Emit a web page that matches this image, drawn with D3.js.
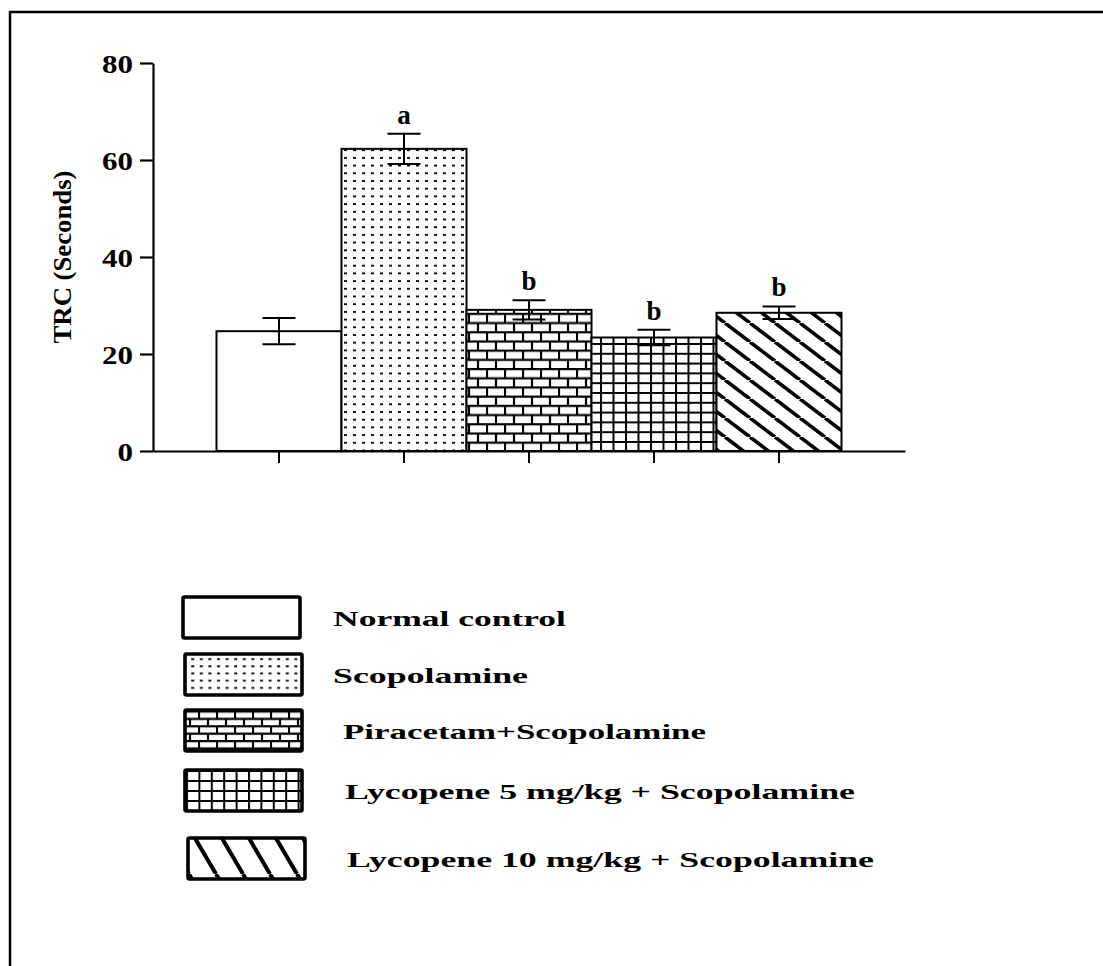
<!DOCTYPE html>
<html>
<head>
<meta charset="utf-8">
<script src="https://cdn.jsdelivr.net/npm/d3@7"></script>
<style>
  body { margin: 0; background: #fff; }
  svg { display: block; }
  text { font-family: "Liberation Serif", "Times New Roman", serif; font-weight: bold; fill: #000; }
</style>
</head>
<body>
<svg id="canvas" width="1103" height="966"></svg>
<script>
// chart data
let groups = ["Normal control", "Scopolamine", "Piracetam+Scopolamine",
              "Lycopene 5 mg/kg + Scopolamine", "Lycopene 10 mg/kg + Scopolamine"]
let means = [24.7, 62.3, 29.1, 23.4, 28.5]
let errors = [2.7, 3.1, 2.0, 1.6, 1.3]
let letters = ["", "a", "b", "b", "b"]
let yTicks = [0, 20, 40, 60, 80]
let fills = ["none", "dots", "brick", "grid", "diag"]

let canvas = d3.select('#canvas')

let x = d3.scaleBand().domain(groups).range([153, 905]).paddingInner(0).paddingOuter(0.508)
let y = d3.scaleLinear().domain([0, 80]).range([451, 63])

// outer frame (only left and top edges visible)
canvas.append('path')
    .attr('d', 'M10,966 V12 H1103')
    .attr('fill', 'none')
    .attr('stroke', '#000')
    .attr('stroke-width', 2.5)

// hatch patterns
let defs = canvas.append('defs')

let makeDots = (id, w, h) => {
    let p = defs.append('pattern').attr('id', id).attr('patternUnits', 'userSpaceOnUse')
        .attr('width', w).attr('height', h)
    p.append('rect').attr('width', w).attr('height', h).attr('fill', '#fff')
    p.append('rect').attr('x', 2).attr('y', 3).attr('width', 3).attr('height', 1.8).attr('fill', '#000')
}
let makeBrick = (id, w, h) => {
    let p = defs.append('pattern').attr('id', id).attr('patternUnits', 'userSpaceOnUse')
        .attr('width', w).attr('height', h * 2)
    p.append('rect').attr('width', w).attr('height', h * 2).attr('fill', '#fff')
    p.append('path')
        .attr('d', `M0,1 H${w} M0,${h + 1} H${w} M1,0 V${h} M${w / 2 + 1},${h} V${2 * h}`)
        .attr('stroke', '#000').attr('stroke-width', 2.2).attr('fill', 'none')
}
let makeGrid = (id, w, h) => {
    let p = defs.append('pattern').attr('id', id).attr('patternUnits', 'userSpaceOnUse')
        .attr('width', w).attr('height', h)
    p.append('rect').attr('width', w).attr('height', h).attr('fill', '#fff')
    p.append('path')
        .attr('d', `M0,1 H${w} M1,0 V${h}`)
        .attr('stroke', '#000').attr('stroke-width', 2).attr('fill', 'none')
}
let makeDiag = (id, w, h, sw) => {
    let p = defs.append('pattern').attr('id', id).attr('patternUnits', 'userSpaceOnUse')
        .attr('width', w).attr('height', h)
    p.append('rect').attr('width', w).attr('height', h).attr('fill', '#fff')
    p.append('path')
        .attr('d', `M0,0 L${w},${h} M${w},0 L${2 * w},${h} M${-w},0 L0,${h}`)
        .attr('stroke', '#000').attr('stroke-width', sw).attr('fill', 'none')
}

makeDots('dots', 9, 7.7)
makeBrick('brick', 18, 9.2)
makeGrid('grid', 12.5, 9.8)
makeDiag('diag', 25, 19, 3.6)

makeDots('dots-leg', 8.6, 7.2)
makeBrick('brick-leg', 18, 7.4)
makeGrid('grid-leg', 12.4, 10)
makeDiag('diag-leg', 27, 46, 4)

let fillFor = (f, suffix) => f === 'none' ? '#fff' : `url(#${f}${suffix})`

// bars
canvas.selectAll('rect.bar')
    .data(groups)
    .enter()
    .append('rect')
    .attr('class', 'bar')
    .attr('x', d => x(d))
    .attr('y', (d, i) => y(means[i]))
    .attr('width', x.bandwidth())
    .attr('height', (d, i) => y(0) - y(means[i]))
    .attr('fill', (d, i) => fillFor(fills[i], ''))
    .attr('stroke', '#000')
    .attr('stroke-width', 2)

// error bars
let cap = 16.5
let err = canvas.append('g').attr('stroke', '#000').attr('stroke-width', 2).attr('fill', 'none')
groups.forEach((g, i) => {
    let cx = x(g) + x.bandwidth() / 2
    let hi = y(means[i] + errors[i])
    let lo = y(means[i] - errors[i])
    err.append('path')
        .attr('d', `M${cx},${hi} V${lo} M${cx - cap},${hi} H${cx + cap} M${cx - cap},${lo} H${cx + cap}`)
})

// significance letters
canvas.selectAll('text.sig')
    .data(groups)
    .enter()
    .append('text')
    .attr('class', 'sig')
    .attr('x', d => x(d) + x.bandwidth() / 2)
    .attr('y', (d, i) => y(means[i] + errors[i]) - 10)
    .attr('text-anchor', 'middle')
    .style('font-size', '27px')
    .text((d, i) => letters[i])

// y axis
let yAxis = canvas.append('g')
    .attr('transform', 'translate(153,0)')
    .call(d3.axisLeft(y).tickValues(yTicks).tickSize(13).tickPadding(7).tickSizeOuter(0))
yAxis.select('.domain').attr('stroke-width', 2.2)
yAxis.selectAll('.tick line').attr('stroke-width', 2.2)
yAxis.selectAll('.tick text')
    .style('font-size', '26px')
    .style('font-family', '"Liberation Serif", serif')
    .style('font-weight', 'bold')
    .attr('dy', '0.36em')
    .attr('textLength', d => String(d).length * 15.5)
    .attr('lengthAdjust', 'spacingAndGlyphs')

// x axis
let xAxis = canvas.append('g')
    .attr('transform', 'translate(0,451)')
    .call(d3.axisBottom(x).tickSize(12).tickSizeOuter(0).tickFormat(''))
xAxis.select('.domain').attr('stroke-width', 2.2)
xAxis.selectAll('.tick line').attr('stroke-width', 2)

// y axis title
canvas.append('text')
    .attr('transform', 'translate(71,257) rotate(-90)')
    .attr('text-anchor', 'middle')
    .attr('textLength', 173)
    .attr('lengthAdjust', 'spacingAndGlyphs')
    .style('font-size', '25px')
    .text('TRC (Seconds)')

// legend
let legendBoxY = [597, 654, 710, 770, 838]
let legendBoxX = [183, 185, 185, 185, 188]
let legendTextX = [333, 333, 343, 345, 347]
let legendTextLen = [233, 195, 363, 510, 527]
let legend = canvas.append('g')
groups.forEach((g, i) => {
    legend.append('rect')
        .attr('x', legendBoxX[i])
        .attr('y', legendBoxY[i])
        .attr('width', 117)
        .attr('height', 41)
        .attr('rx', 1.5)
        .attr('fill', fillFor(fills[i], '-leg'))
        .attr('stroke', '#000')
        .attr('stroke-width', 3.6)
    legend.append('text')
        .attr('x', legendTextX[i])
        .attr('y', legendBoxY[i] + 29)
        .attr('textLength', legendTextLen[i])
        .attr('lengthAdjust', 'spacingAndGlyphs')
        .style('font-size', '22px')
        .text(g)
})
</script>
</body>
</html>
